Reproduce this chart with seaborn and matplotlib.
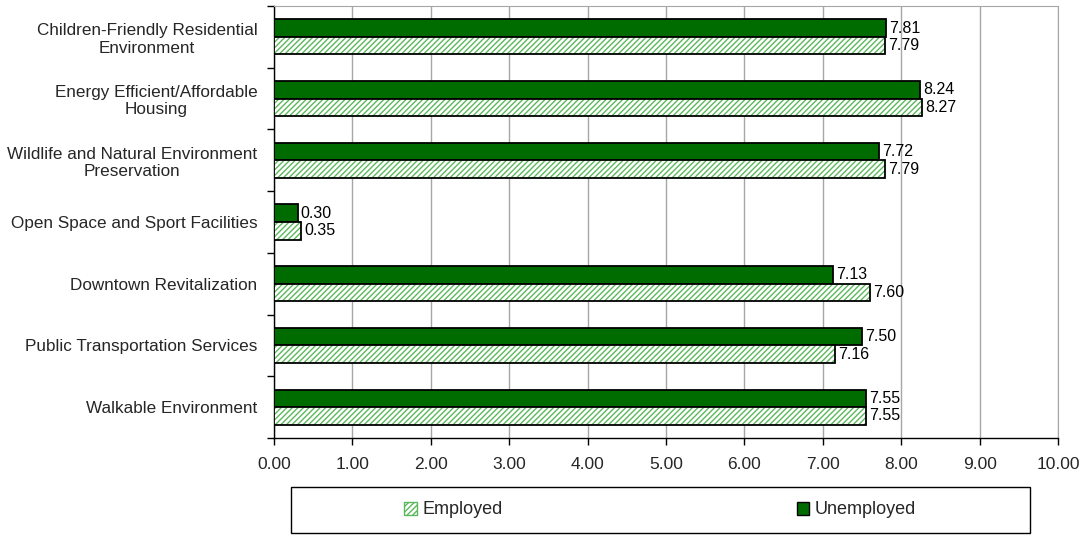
import pandas as pd
import matplotlib
matplotlib.use("Agg")
import matplotlib.pyplot as plt
from matplotlib.patches import Patch, Rectangle
from matplotlib.ticker import FixedLocator
import seaborn as sns

# Categories from top to bottom
categories = ["Children-Friendly Residential\nEnvironment",
              "Energy Efficient/Affordable\nHousing",
              "Wildlife and Natural Environment\nPreservation",
              "Open Space and Sport Facilities",
              "Downtown Revitalization",
              "Public Transportation Services",
              "Walkable Environment"]
unemployed = [7.81, 8.24, 7.72, 0.30, 7.13, 7.50, 7.55]
employed = [7.79, 8.27, 7.79, 0.35, 7.60, 7.16, 7.55]
xticks = [0, 1, 2, 3, 4, 5, 6, 7, 8, 9, 10]

dark_green = "#006c00"
hatch_green = "#5cb85c"

sns.set_style("white")
plt.rcParams['font.family'] = ['Liberation Sans', 'DejaVu Sans']

# Long-format dataframe for seaborn
df = pd.DataFrame({
    "Category": categories * 2,
    "Value": unemployed + employed,
    "Group": ["Unemployed"] * len(categories) + ["Employed"] * len(categories),
})

fig = plt.figure(figsize=(10.86, 5.36), dpi=100)
ax = fig.add_axes([0.2523, 0.1828, 0.9742 - 0.2523, 0.9888 - 0.1828])

sns.barplot(data=df, x="Value", y="Category", hue="Group",
            hue_order=["Unemployed", "Employed"], order=categories,
            palette={"Unemployed": dark_green, "Employed": "white"},
            orient="h", width=0.57, gap=0, legend=False, ax=ax,
            edgecolor="black", linewidth=1.3, saturation=1, zorder=3)

# Style the bars: hatched employed bars get a separate black outline
n = len(categories)
for i, bar in enumerate(ax.patches[:2 * n]):
    x0, y0 = bar.get_x(), bar.get_y()
    w, h = bar.get_width(), bar.get_height()
    val = unemployed[i] if i < n else employed[i - n]
    if i >= n:
        bar.set_hatch("//////")
        bar.set_edgecolor(hatch_green)
        bar.set_linewidth(0)
        ax.add_patch(Rectangle((x0, y0), w, h, fill=False, edgecolor="black",
                               linewidth=1.3, zorder=4))
    ax.text(x0 + w + 0.04, y0 + h / 2, f"{val:.2f}", va="center", ha="left",
            fontsize=11.5, color="black", zorder=5)

ax.set_xlim(0, 10)
ax.set_ylim(n - 0.5, -0.5)
ax.xaxis.set_major_locator(FixedLocator(xticks))
ax.set_xticklabels([f"{t:.2f}" for t in xticks], fontsize=12.5)
ax.tick_params(axis="x", direction="out", length=5, width=1, color="black",
               bottom=True, pad=9)
ax.tick_params(axis="y", which="major", length=0, labelsize=12.3, pad=12)
ax.yaxis.set_minor_locator(FixedLocator([k - 0.5 for k in range(n + 1)]))
ax.tick_params(axis="y", which="minor", direction="out", length=5, width=1,
               color="black", left=True)
for lbl in ax.get_yticklabels():
    lbl.set_multialignment("center")

ax.set_xlabel("")
ax.set_ylabel("")
ax.grid(axis="x", color="#a6a6a6", linewidth=1, zorder=0)
ax.set_axisbelow(True)
for side in ["top", "right"]:
    ax.spines[side].set_visible(True)
    ax.spines[side].set_color("#a6a6a6")
for side in ["left", "bottom"]:
    ax.spines[side].set_color("black")
    ax.spines[side].set_linewidth(1)

# Legend box under the plot, one entry centred in each half
handles = [Patch(facecolor="white", edgecolor=hatch_green, hatch="//////",
                 label="Employed"),
           Patch(facecolor=dark_green, edgecolor="black", label="Unemployed")]
leg = fig.legend(handles=handles, loc="center", ncol=2,
                 bbox_to_anchor=(660 / 1086, 1 - 510 / 536),
                 frameon=False, fontsize=13,
                 handlelength=0.7, handleheight=0.7, handletextpad=0.3,
                 columnspacing=16.3)
fig.patches.append(Rectangle((291 / 1086, 1 - 533 / 536), 739 / 1086, 46 / 536,
                             transform=fig.transFigure, fill=False,
                             edgecolor="black", linewidth=1))

fig.savefig("out.png", dpi=100)
